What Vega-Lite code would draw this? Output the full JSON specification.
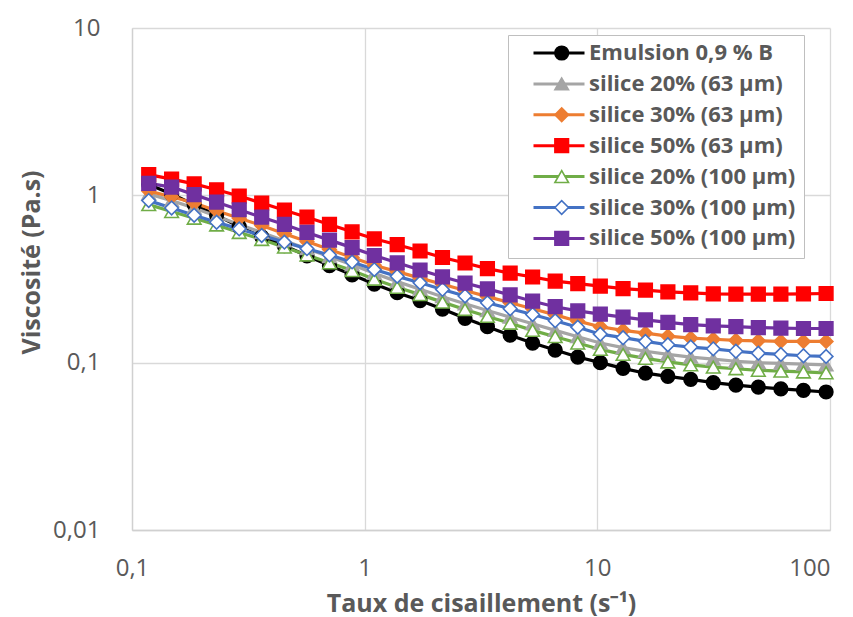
{
  "$schema": "https://vega.github.io/schema/vega-lite/v6.json",
  "width": 698,
  "height": 502,
  "autosize": {"type": "none"},
  "padding": {"left": 132, "top": 28, "right": 23, "bottom": 87},
  "background": "white",
  "config": {
    "font": "Open Sans",
    "view": {"stroke": null},
    "axis": {
      "labelFont": "Open Sans",
      "labelFontSize": 24,
      "labelColor": "#595959",
      "titleFont": "Open Sans",
      "titleFontSize": 25,
      "titleFontWeight": "bold",
      "titleColor": "#595959",
      "gridColor": "#d9d9d9",
      "gridWidth": 1.3,
      "domainColor": "#d0d0d0",
      "domainWidth": 1.3,
      "ticks": false
    }
  },
  "data": {
    "values": [
      {"series": "Emulsion 0,9 % B", "rate": 0.118, "visc": 1.16},
      {"series": "Emulsion 0,9 % B", "rate": 0.148, "visc": 1.02},
      {"series": "Emulsion 0,9 % B", "rate": 0.185, "visc": 0.88},
      {"series": "Emulsion 0,9 % B", "rate": 0.231, "visc": 0.76},
      {"series": "Emulsion 0,9 % B", "rate": 0.289, "visc": 0.65},
      {"series": "Emulsion 0,9 % B", "rate": 0.361, "visc": 0.565},
      {"series": "Emulsion 0,9 % B", "rate": 0.452, "visc": 0.5},
      {"series": "Emulsion 0,9 % B", "rate": 0.565, "visc": 0.435},
      {"series": "Emulsion 0,9 % B", "rate": 0.706, "visc": 0.38},
      {"series": "Emulsion 0,9 % B", "rate": 0.883, "visc": 0.335},
      {"series": "Emulsion 0,9 % B", "rate": 1.1, "visc": 0.295},
      {"series": "Emulsion 0,9 % B", "rate": 1.38, "visc": 0.262},
      {"series": "Emulsion 0,9 % B", "rate": 1.73, "visc": 0.235},
      {"series": "Emulsion 0,9 % B", "rate": 2.16, "visc": 0.209},
      {"series": "Emulsion 0,9 % B", "rate": 2.7, "visc": 0.184},
      {"series": "Emulsion 0,9 % B", "rate": 3.37, "visc": 0.164},
      {"series": "Emulsion 0,9 % B", "rate": 4.22, "visc": 0.146},
      {"series": "Emulsion 0,9 % B", "rate": 5.27, "visc": 0.131},
      {"series": "Emulsion 0,9 % B", "rate": 6.59, "visc": 0.119},
      {"series": "Emulsion 0,9 % B", "rate": 8.24, "visc": 0.108},
      {"series": "Emulsion 0,9 % B", "rate": 10.3, "visc": 0.1},
      {"series": "Emulsion 0,9 % B", "rate": 12.9, "visc": 0.0925},
      {"series": "Emulsion 0,9 % B", "rate": 16.1, "visc": 0.0865},
      {"series": "Emulsion 0,9 % B", "rate": 20.1, "visc": 0.0828},
      {"series": "Emulsion 0,9 % B", "rate": 25.2, "visc": 0.0795},
      {"series": "Emulsion 0,9 % B", "rate": 31.5, "visc": 0.076},
      {"series": "Emulsion 0,9 % B", "rate": 39.4, "visc": 0.0735},
      {"series": "Emulsion 0,9 % B", "rate": 49.2, "visc": 0.0715},
      {"series": "Emulsion 0,9 % B", "rate": 61.5, "visc": 0.0698},
      {"series": "Emulsion 0,9 % B", "rate": 76.9, "visc": 0.0683},
      {"series": "Emulsion 0,9 % B", "rate": 96.2, "visc": 0.0668},

      {"series": "silice 20% (63 µm)", "rate": 0.118, "visc": 1.02},
      {"series": "silice 20% (63 µm)", "rate": 0.148, "visc": 0.93},
      {"series": "silice 20% (63 µm)", "rate": 0.185, "visc": 0.84},
      {"series": "silice 20% (63 µm)", "rate": 0.231, "visc": 0.75},
      {"series": "silice 20% (63 µm)", "rate": 0.289, "visc": 0.67},
      {"series": "silice 20% (63 µm)", "rate": 0.361, "visc": 0.6},
      {"series": "silice 20% (63 µm)", "rate": 0.452, "visc": 0.535},
      {"series": "silice 20% (63 µm)", "rate": 0.565, "visc": 0.48},
      {"series": "silice 20% (63 µm)", "rate": 0.706, "visc": 0.43},
      {"series": "silice 20% (63 µm)", "rate": 0.883, "visc": 0.385},
      {"series": "silice 20% (63 µm)", "rate": 1.1, "visc": 0.342},
      {"series": "silice 20% (63 µm)", "rate": 1.38, "visc": 0.305},
      {"series": "silice 20% (63 µm)", "rate": 1.73, "visc": 0.275},
      {"series": "silice 20% (63 µm)", "rate": 2.16, "visc": 0.248},
      {"series": "silice 20% (63 µm)", "rate": 2.7, "visc": 0.225},
      {"series": "silice 20% (63 µm)", "rate": 3.37, "visc": 0.205},
      {"series": "silice 20% (63 µm)", "rate": 4.22, "visc": 0.187},
      {"series": "silice 20% (63 µm)", "rate": 5.27, "visc": 0.171},
      {"series": "silice 20% (63 µm)", "rate": 6.59, "visc": 0.156},
      {"series": "silice 20% (63 µm)", "rate": 8.24, "visc": 0.143},
      {"series": "silice 20% (63 µm)", "rate": 10.3, "visc": 0.131},
      {"series": "silice 20% (63 µm)", "rate": 12.9, "visc": 0.123},
      {"series": "silice 20% (63 µm)", "rate": 16.1, "visc": 0.117},
      {"series": "silice 20% (63 µm)", "rate": 20.1, "visc": 0.112},
      {"series": "silice 20% (63 µm)", "rate": 25.2, "visc": 0.108},
      {"series": "silice 20% (63 µm)", "rate": 31.5, "visc": 0.105},
      {"series": "silice 20% (63 µm)", "rate": 39.4, "visc": 0.102},
      {"series": "silice 20% (63 µm)", "rate": 49.2, "visc": 0.1},
      {"series": "silice 20% (63 µm)", "rate": 61.5, "visc": 0.099},
      {"series": "silice 20% (63 µm)", "rate": 76.9, "visc": 0.098},
      {"series": "silice 20% (63 µm)", "rate": 96.2, "visc": 0.097},

      {"series": "silice 30% (63 µm)", "rate": 0.118, "visc": 1.06},
      {"series": "silice 30% (63 µm)", "rate": 0.148, "visc": 0.98},
      {"series": "silice 30% (63 µm)", "rate": 0.185, "visc": 0.9},
      {"series": "silice 30% (63 µm)", "rate": 0.231, "visc": 0.81},
      {"series": "silice 30% (63 µm)", "rate": 0.289, "visc": 0.73},
      {"series": "silice 30% (63 µm)", "rate": 0.361, "visc": 0.66},
      {"series": "silice 30% (63 µm)", "rate": 0.452, "visc": 0.59},
      {"series": "silice 30% (63 µm)", "rate": 0.565, "visc": 0.53},
      {"series": "silice 30% (63 µm)", "rate": 0.706, "visc": 0.475},
      {"series": "silice 30% (63 µm)", "rate": 0.883, "visc": 0.425},
      {"series": "silice 30% (63 µm)", "rate": 1.1, "visc": 0.382},
      {"series": "silice 30% (63 µm)", "rate": 1.38, "visc": 0.35},
      {"series": "silice 30% (63 µm)", "rate": 1.73, "visc": 0.32},
      {"series": "silice 30% (63 µm)", "rate": 2.16, "visc": 0.294},
      {"series": "silice 30% (63 µm)", "rate": 2.7, "visc": 0.27},
      {"series": "silice 30% (63 µm)", "rate": 3.37, "visc": 0.248},
      {"series": "silice 30% (63 µm)", "rate": 4.22, "visc": 0.228},
      {"series": "silice 30% (63 µm)", "rate": 5.27, "visc": 0.21},
      {"series": "silice 30% (63 µm)", "rate": 6.59, "visc": 0.193},
      {"series": "silice 30% (63 µm)", "rate": 8.24, "visc": 0.177},
      {"series": "silice 30% (63 µm)", "rate": 10.3, "visc": 0.164},
      {"series": "silice 30% (63 µm)", "rate": 12.9, "visc": 0.156},
      {"series": "silice 30% (63 µm)", "rate": 16.1, "visc": 0.15},
      {"series": "silice 30% (63 µm)", "rate": 20.1, "visc": 0.144},
      {"series": "silice 30% (63 µm)", "rate": 25.2, "visc": 0.14},
      {"series": "silice 30% (63 µm)", "rate": 31.5, "visc": 0.138},
      {"series": "silice 30% (63 µm)", "rate": 39.4, "visc": 0.136},
      {"series": "silice 30% (63 µm)", "rate": 49.2, "visc": 0.135},
      {"series": "silice 30% (63 µm)", "rate": 61.5, "visc": 0.134},
      {"series": "silice 30% (63 µm)", "rate": 76.9, "visc": 0.134},
      {"series": "silice 30% (63 µm)", "rate": 96.2, "visc": 0.134},

      {"series": "silice 50% (63 µm)", "rate": 0.118, "visc": 1.33},
      {"series": "silice 50% (63 µm)", "rate": 0.148, "visc": 1.25},
      {"series": "silice 50% (63 µm)", "rate": 0.185, "visc": 1.17},
      {"series": "silice 50% (63 µm)", "rate": 0.231, "visc": 1.08},
      {"series": "silice 50% (63 µm)", "rate": 0.289, "visc": 0.99},
      {"series": "silice 50% (63 µm)", "rate": 0.361, "visc": 0.9},
      {"series": "silice 50% (63 µm)", "rate": 0.452, "visc": 0.815},
      {"series": "silice 50% (63 µm)", "rate": 0.565, "visc": 0.74},
      {"series": "silice 50% (63 µm)", "rate": 0.706, "visc": 0.67},
      {"series": "silice 50% (63 µm)", "rate": 0.883, "visc": 0.605},
      {"series": "silice 50% (63 µm)", "rate": 1.1, "visc": 0.55},
      {"series": "silice 50% (63 µm)", "rate": 1.38, "visc": 0.507},
      {"series": "silice 50% (63 µm)", "rate": 1.73, "visc": 0.465},
      {"series": "silice 50% (63 µm)", "rate": 2.16, "visc": 0.425},
      {"series": "silice 50% (63 µm)", "rate": 2.7, "visc": 0.394},
      {"series": "silice 50% (63 µm)", "rate": 3.37, "visc": 0.365},
      {"series": "silice 50% (63 µm)", "rate": 4.22, "visc": 0.343},
      {"series": "silice 50% (63 µm)", "rate": 5.27, "visc": 0.325},
      {"series": "silice 50% (63 µm)", "rate": 6.59, "visc": 0.307},
      {"series": "silice 50% (63 µm)", "rate": 8.24, "visc": 0.297},
      {"series": "silice 50% (63 µm)", "rate": 10.3, "visc": 0.287},
      {"series": "silice 50% (63 µm)", "rate": 12.9, "visc": 0.277},
      {"series": "silice 50% (63 µm)", "rate": 16.1, "visc": 0.271},
      {"series": "silice 50% (63 µm)", "rate": 20.1, "visc": 0.265},
      {"series": "silice 50% (63 µm)", "rate": 25.2, "visc": 0.261},
      {"series": "silice 50% (63 µm)", "rate": 31.5, "visc": 0.258},
      {"series": "silice 50% (63 µm)", "rate": 39.4, "visc": 0.257},
      {"series": "silice 50% (63 µm)", "rate": 49.2, "visc": 0.257},
      {"series": "silice 50% (63 µm)", "rate": 61.5, "visc": 0.257},
      {"series": "silice 50% (63 µm)", "rate": 76.9, "visc": 0.258},
      {"series": "silice 50% (63 µm)", "rate": 96.2, "visc": 0.259},

      {"series": "silice 20% (100 µm)", "rate": 0.118, "visc": 0.88},
      {"series": "silice 20% (100 µm)", "rate": 0.148, "visc": 0.8},
      {"series": "silice 20% (100 µm)", "rate": 0.185, "visc": 0.73},
      {"series": "silice 20% (100 µm)", "rate": 0.231, "visc": 0.665},
      {"series": "silice 20% (100 µm)", "rate": 0.289, "visc": 0.6},
      {"series": "silice 20% (100 µm)", "rate": 0.361, "visc": 0.545},
      {"series": "silice 20% (100 µm)", "rate": 0.452, "visc": 0.49},
      {"series": "silice 20% (100 µm)", "rate": 0.565, "visc": 0.44},
      {"series": "silice 20% (100 µm)", "rate": 0.706, "visc": 0.395},
      {"series": "silice 20% (100 µm)", "rate": 0.883, "visc": 0.355},
      {"series": "silice 20% (100 µm)", "rate": 1.1, "visc": 0.315},
      {"series": "silice 20% (100 µm)", "rate": 1.38, "visc": 0.282},
      {"series": "silice 20% (100 µm)", "rate": 1.73, "visc": 0.255},
      {"series": "silice 20% (100 µm)", "rate": 2.16, "visc": 0.23},
      {"series": "silice 20% (100 µm)", "rate": 2.7, "visc": 0.208},
      {"series": "silice 20% (100 µm)", "rate": 3.37, "visc": 0.189},
      {"series": "silice 20% (100 µm)", "rate": 4.22, "visc": 0.172},
      {"series": "silice 20% (100 µm)", "rate": 5.27, "visc": 0.156},
      {"series": "silice 20% (100 µm)", "rate": 6.59, "visc": 0.143},
      {"series": "silice 20% (100 µm)", "rate": 8.24, "visc": 0.131},
      {"series": "silice 20% (100 µm)", "rate": 10.3, "visc": 0.12},
      {"series": "silice 20% (100 µm)", "rate": 12.9, "visc": 0.112},
      {"series": "silice 20% (100 µm)", "rate": 16.1, "visc": 0.106},
      {"series": "silice 20% (100 µm)", "rate": 20.1, "visc": 0.101},
      {"series": "silice 20% (100 µm)", "rate": 25.2, "visc": 0.097},
      {"series": "silice 20% (100 µm)", "rate": 31.5, "visc": 0.094},
      {"series": "silice 20% (100 µm)", "rate": 39.4, "visc": 0.092},
      {"series": "silice 20% (100 µm)", "rate": 49.2, "visc": 0.09},
      {"series": "silice 20% (100 µm)", "rate": 61.5, "visc": 0.089},
      {"series": "silice 20% (100 µm)", "rate": 76.9, "visc": 0.088},
      {"series": "silice 20% (100 µm)", "rate": 96.2, "visc": 0.087},

      {"series": "silice 30% (100 µm)", "rate": 0.118, "visc": 0.93},
      {"series": "silice 30% (100 µm)", "rate": 0.148, "visc": 0.84},
      {"series": "silice 30% (100 µm)", "rate": 0.185, "visc": 0.76},
      {"series": "silice 30% (100 µm)", "rate": 0.231, "visc": 0.69},
      {"series": "silice 30% (100 µm)", "rate": 0.289, "visc": 0.63},
      {"series": "silice 30% (100 µm)", "rate": 0.361, "visc": 0.575},
      {"series": "silice 30% (100 µm)", "rate": 0.452, "visc": 0.525},
      {"series": "silice 30% (100 µm)", "rate": 0.565, "visc": 0.48},
      {"series": "silice 30% (100 µm)", "rate": 0.706, "visc": 0.44},
      {"series": "silice 30% (100 µm)", "rate": 0.883, "visc": 0.4},
      {"series": "silice 30% (100 µm)", "rate": 1.1, "visc": 0.36},
      {"series": "silice 30% (100 µm)", "rate": 1.38, "visc": 0.328},
      {"series": "silice 30% (100 µm)", "rate": 1.73, "visc": 0.3},
      {"series": "silice 30% (100 µm)", "rate": 2.16, "visc": 0.274},
      {"series": "silice 30% (100 µm)", "rate": 2.7, "visc": 0.25},
      {"series": "silice 30% (100 µm)", "rate": 3.37, "visc": 0.228},
      {"series": "silice 30% (100 µm)", "rate": 4.22, "visc": 0.21},
      {"series": "silice 30% (100 µm)", "rate": 5.27, "visc": 0.194},
      {"series": "silice 30% (100 µm)", "rate": 6.59, "visc": 0.178},
      {"series": "silice 30% (100 µm)", "rate": 8.24, "visc": 0.163},
      {"series": "silice 30% (100 µm)", "rate": 10.3, "visc": 0.148},
      {"series": "silice 30% (100 µm)", "rate": 12.9, "visc": 0.141},
      {"series": "silice 30% (100 µm)", "rate": 16.1, "visc": 0.134},
      {"series": "silice 30% (100 µm)", "rate": 20.1, "visc": 0.128},
      {"series": "silice 30% (100 µm)", "rate": 25.2, "visc": 0.124},
      {"series": "silice 30% (100 µm)", "rate": 31.5, "visc": 0.121},
      {"series": "silice 30% (100 µm)", "rate": 39.4, "visc": 0.117},
      {"series": "silice 30% (100 µm)", "rate": 49.2, "visc": 0.114},
      {"series": "silice 30% (100 µm)", "rate": 61.5, "visc": 0.112},
      {"series": "silice 30% (100 µm)", "rate": 76.9, "visc": 0.11},
      {"series": "silice 30% (100 µm)", "rate": 96.2, "visc": 0.109},

      {"series": "silice 50% (100 µm)", "rate": 0.118, "visc": 1.18},
      {"series": "silice 50% (100 µm)", "rate": 0.148, "visc": 1.12},
      {"series": "silice 50% (100 µm)", "rate": 0.185, "visc": 1.01},
      {"series": "silice 50% (100 µm)", "rate": 0.231, "visc": 0.91},
      {"series": "silice 50% (100 µm)", "rate": 0.289, "visc": 0.82},
      {"series": "silice 50% (100 µm)", "rate": 0.361, "visc": 0.74},
      {"series": "silice 50% (100 µm)", "rate": 0.452, "visc": 0.67},
      {"series": "silice 50% (100 µm)", "rate": 0.565, "visc": 0.6},
      {"series": "silice 50% (100 µm)", "rate": 0.706, "visc": 0.54},
      {"series": "silice 50% (100 µm)", "rate": 0.883, "visc": 0.487},
      {"series": "silice 50% (100 µm)", "rate": 1.1, "visc": 0.437},
      {"series": "silice 50% (100 µm)", "rate": 1.38, "visc": 0.395},
      {"series": "silice 50% (100 µm)", "rate": 1.73, "visc": 0.358},
      {"series": "silice 50% (100 µm)", "rate": 2.16, "visc": 0.326},
      {"series": "silice 50% (100 µm)", "rate": 2.7, "visc": 0.299},
      {"series": "silice 50% (100 µm)", "rate": 3.37, "visc": 0.276},
      {"series": "silice 50% (100 µm)", "rate": 4.22, "visc": 0.254},
      {"series": "silice 50% (100 µm)", "rate": 5.27, "visc": 0.233},
      {"series": "silice 50% (100 µm)", "rate": 6.59, "visc": 0.216},
      {"series": "silice 50% (100 µm)", "rate": 8.24, "visc": 0.204},
      {"series": "silice 50% (100 µm)", "rate": 10.3, "visc": 0.195},
      {"series": "silice 50% (100 µm)", "rate": 12.9, "visc": 0.187},
      {"series": "silice 50% (100 µm)", "rate": 16.1, "visc": 0.18},
      {"series": "silice 50% (100 µm)", "rate": 20.1, "visc": 0.174},
      {"series": "silice 50% (100 µm)", "rate": 25.2, "visc": 0.169},
      {"series": "silice 50% (100 µm)", "rate": 31.5, "visc": 0.166},
      {"series": "silice 50% (100 µm)", "rate": 39.4, "visc": 0.164},
      {"series": "silice 50% (100 µm)", "rate": 49.2, "visc": 0.162},
      {"series": "silice 50% (100 µm)", "rate": 61.5, "visc": 0.161},
      {"series": "silice 50% (100 µm)", "rate": 76.9, "visc": 0.16},
      {"series": "silice 50% (100 µm)", "rate": 96.2, "visc": 0.16}
    ]
  },
  "encoding": {
    "x": {
      "field": "rate",
      "type": "quantitative",
      "scale": {"type": "log", "domain": [0.1, 100], "nice": false},
      "axis": {
        "title": "Taux de cisaillement (s⁻¹)",
        "values": [0.1, 1, 10, 100],
        "labelExpr": "replace(format(datum.value, '~g'), '.', ',')",
        "labelAlign": {"condition": {"test": "datum.value >= 100", "value": "right"}, "value": "center"},
        "labelPadding": 26,
        "titlePadding": 11,
        "labelFlush": false
      }
    },
    "y": {
      "field": "visc",
      "type": "quantitative",
      "scale": {"type": "log", "domain": [0.01, 10], "nice": false},
      "axis": {
        "title": "Viscosité (Pa.s)",
        "values": [0.01, 0.1, 1, 10],
        "labelExpr": "replace(format(datum.value, '~g'), '.', ',')",
        "labelPadding": 32,
        "titlePadding": 8,
        "titleY": 234,
        "labelFlush": false
      }
    }
  },
  "layer": [
    {
      "mark": {"type": "line", "strokeWidth": 3.2},
      "encoding": {
        "stroke": {
          "field": "series",
          "type": "nominal",
          "scale": {
            "domain": ["Emulsion 0,9 % B", "silice 20% (63 µm)", "silice 30% (63 µm)", "silice 50% (63 µm)", "silice 20% (100 µm)", "silice 30% (100 µm)", "silice 50% (100 µm)"],
            "range": ["#000000", "#a5a5a5", "#ed7d31", "#ff0000", "#70ad47", "#4472c4", "#7030a0"]
          },
          "legend": {
            "orient": "none",
            "legendX": 376,
            "legendY": 7,
            "title": null,
            "symbolType": "stroke",
            "symbolSize": 2601,
            "symbolStrokeWidth": 3,
            "clipHeight": 20,
            "rowPadding": 8.9,
            "padding": 8,
            "symbolOffset": 16,
            "labelOffset": 3,
            "labelFont": "Open Sans",
            "labelFontSize": 22,
            "labelFontWeight": "bold",
            "labelColor": "#595959",
            "labelLimit": 400,
            "fillColor": "white",
            "strokeColor": "#bfbfbf"
          }
        }
      }
    },
    {
      "mark": {"type": "point", "size": 185, "strokeWidth": 1.6, "opacity": 1},
      "encoding": {
        "stroke": {
          "field": "series",
          "type": "nominal",
          "legend": {
            "orient": "none", "legendX": 394.7, "legendY": 7, "title": null,
            "symbolSize": 185, "symbolStrokeWidth": 1.6, "clipHeight": 20, "rowPadding": 8.9,
            "padding": 8, "symbolOffset": 16, "labelOffset": 3, "labelFont": "Open Sans",
            "labelFontSize": 22, "labelFontWeight": "bold", "labelExpr": "''", "labelLimit": 400
          }
        },
        "fill": {
          "field": "series",
          "type": "nominal",
          "scale": {
            "domain": ["Emulsion 0,9 % B", "silice 20% (63 µm)", "silice 30% (63 µm)", "silice 50% (63 µm)", "silice 20% (100 µm)", "silice 30% (100 µm)", "silice 50% (100 µm)"],
            "range": ["#000000", "#a5a5a5", "#ed7d31", "#ff0000", "#ffffff", "#ffffff", "#7030a0"]
          },
          "legend": {
            "orient": "none", "legendX": 394.7, "legendY": 7, "title": null,
            "symbolSize": 185, "symbolStrokeWidth": 1.6, "clipHeight": 20, "rowPadding": 8.9,
            "padding": 8, "symbolOffset": 16, "labelOffset": 3, "labelFont": "Open Sans",
            "labelFontSize": 22, "labelFontWeight": "bold", "labelExpr": "''", "labelLimit": 400
          }
        },
        "shape": {
          "field": "series",
          "type": "nominal",
          "scale": {
            "domain": ["Emulsion 0,9 % B", "silice 20% (63 µm)", "silice 30% (63 µm)", "silice 50% (63 µm)", "silice 20% (100 µm)", "silice 30% (100 µm)", "silice 50% (100 µm)"],
            "range": ["circle", "triangle-up", "diamond", "square", "triangle-up", "diamond", "square"]
          },
          "legend": {
            "orient": "none", "legendX": 394.7, "legendY": 7, "title": null,
            "symbolSize": 185, "symbolStrokeWidth": 1.6, "clipHeight": 20, "rowPadding": 8.9,
            "padding": 8, "symbolOffset": 16, "labelOffset": 3, "labelFont": "Open Sans",
            "labelFontSize": 22, "labelFontWeight": "bold", "labelExpr": "''", "labelLimit": 400
          }
        }
      }
    }
  ],
  "resolve": {"legend": {"stroke": "independent", "fill": "independent", "shape": "independent"}}
}
